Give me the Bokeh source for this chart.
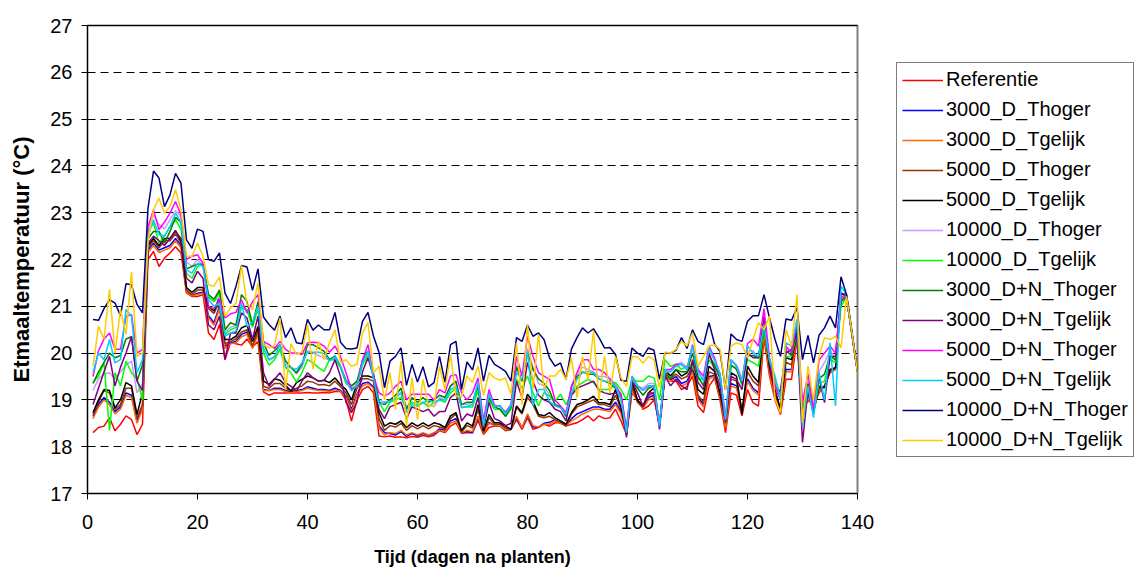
from bokeh.plotting import figure
from bokeh.models import Legend, LegendItem, LinearAxis, FixedTicker, Range1d
from bokeh.embed import file_html
from bokeh.resources import INLINE

FONT = "Liberation Sans"

days = list(range(1, 141))

series_names = ["Referentie", "3000_D_Thoger", "3000_D_Tgelijk", "5000_D_Thoger",
                "5000_D_Tgelijk", "10000_D_Thoger", "10000_D_Tgelijk", "3000_D+N_Thoger",
                "3000_D+N_Tgelijk", "5000_D+N_Thoger", "5000_D+N_Tgelijk",
                "10000_D+N_Thoger", "10000_D+N_Tgelijk"]

referentie = [
    18.30, 18.41, 18.44, 18.62, 18.34, 18.48, 18.66, 18.58, 18.26, 18.48,
    22.00, 22.17, 21.85, 22.03, 22.14, 22.27, 22.14, 21.28, 21.21, 21.21,
    21.25, 20.43, 20.29, 20.61, 19.86, 20.22, 20.20, 20.17, 20.30, 20.13,
    20.25, 19.17, 19.10, 19.15, 19.15, 19.15, 19.15, 19.15, 19.15, 19.16,
    19.15, 19.15, 19.16, 19.15, 19.18, 19.18, 19.00, 18.55, 19.00, 19.22,
    19.29, 19.15, 18.23, 18.21, 18.23, 18.20, 18.21, 18.19, 18.22, 18.20,
    18.24, 18.21, 18.24, 18.34, 18.30, 18.44, 18.51, 18.29, 18.30, 18.30,
    18.56, 18.26, 18.41, 18.44, 18.44, 18.34, 18.37, 18.58, 18.37, 18.62,
    18.37, 18.41, 18.48, 18.44, 18.51, 18.51, 18.44, 18.48, 18.51, 18.58,
    18.66, 18.55, 18.66, 18.60, 18.62, 18.80, 18.55, 18.26, 19.15, 19.00,
    18.80, 18.87, 19.00, 18.51, 19.51, 19.40, 19.40, 19.22, 19.29, 19.51,
    18.87, 18.73, 19.29, 19.47, 19.00, 18.30, 19.15, 19.10, 18.66, 19.22,
    18.94, 18.87, 20.33, 19.51, 19.00, 18.69, 19.44, 19.44, 20.29, 18.73,
    19.00, 18.87, 19.15, 19.29, 19.58, 19.65, 21.14, 21.21, 20.40, 19.60]

d3000_thoger = [
    18.65, 18.90, 19.05, 18.95, 18.75, 18.85, 19.15, 19.10, 18.55, 18.85,
    22.20, 22.35, 22.20, 22.25, 22.30, 22.45, 22.30, 21.32, 21.22, 21.28,
    21.30, 20.80, 20.65, 21.00, 20.15, 20.22, 20.25, 20.40, 20.45, 20.12,
    20.45, 19.22, 19.20, 19.25, 19.25, 19.20, 19.17, 19.20, 19.22, 19.28,
    19.25, 19.22, 19.22, 19.20, 19.25, 19.20, 19.08, 18.80, 19.12, 19.35,
    19.38, 19.28, 18.45, 18.30, 18.28, 18.25, 18.32, 18.22, 18.28, 18.23,
    18.28, 18.24, 18.28, 18.38, 18.35, 18.55, 18.60, 18.30, 18.33, 18.30,
    18.62, 18.30, 18.52, 18.45, 18.45, 18.36, 18.37, 18.62, 18.40, 18.68,
    18.42, 18.42, 18.50, 18.52, 18.58, 18.50, 18.45, 18.60, 18.70, 18.75,
    18.80, 18.85, 18.85, 18.80, 18.80, 18.95, 18.75, 18.30, 19.25, 18.98,
    18.85, 19.05, 19.10, 18.45, 19.55, 19.42, 19.50, 19.35, 19.40, 19.65,
    19.05, 18.90, 19.50, 19.52, 19.08, 18.45, 19.35, 19.30, 18.80, 19.45,
    19.25, 19.15, 20.50, 19.60, 19.10, 18.75, 19.65, 19.65, 20.38, 18.62,
    19.10, 18.80, 19.22, 19.30, 19.60, 19.66, 21.18, 21.20, 20.40, 19.60]

d3000_tgelijk = [
    18.60, 18.85, 19.00, 18.90, 18.70, 18.80, 19.10, 19.05, 18.50, 18.80,
    22.15, 22.30, 22.15, 22.20, 22.25, 22.40, 22.25, 21.30, 21.22, 21.25,
    21.28, 20.75, 20.60, 20.95, 20.10, 20.20, 20.22, 20.35, 20.40, 20.10,
    20.40, 19.20, 19.20, 19.22, 19.22, 19.18, 19.15, 19.18, 19.20, 19.25,
    19.22, 19.20, 19.20, 19.18, 19.22, 19.18, 19.05, 18.75, 19.10, 19.30,
    19.35, 19.25, 18.40, 18.25, 18.30, 18.28, 18.35, 18.25, 18.30, 18.25,
    18.30, 18.25, 18.30, 18.35, 18.32, 18.50, 18.55, 18.30, 18.35, 18.32,
    18.65, 18.28, 18.50, 18.45, 18.45, 18.36, 18.37, 18.65, 18.40, 18.70,
    18.45, 18.42, 18.48, 18.48, 18.55, 18.50, 18.45, 18.55, 18.62, 18.70,
    18.75, 18.80, 18.80, 18.78, 18.75, 18.90, 18.70, 18.28, 19.20, 18.95,
    18.82, 19.00, 19.05, 18.45, 19.55, 19.40, 19.45, 19.30, 19.35, 19.60,
    19.00, 18.85, 19.45, 19.50, 19.05, 18.40, 19.30, 19.25, 18.75, 19.40,
    19.20, 19.10, 20.45, 19.55, 19.05, 18.72, 19.60, 19.60, 20.35, 18.65,
    19.05, 18.80, 19.20, 19.30, 19.60, 19.66, 21.15, 21.20, 20.40, 19.60]

d5000_thoger = [
    18.70, 18.95, 19.20, 19.15, 18.80, 18.90, 19.25, 19.25, 18.62, 18.90,
    22.25, 22.40, 22.25, 22.40, 22.40, 22.55, 22.35, 21.35, 21.25, 21.35,
    21.35, 20.95, 20.85, 21.10, 20.20, 20.25, 20.30, 20.45, 20.50, 20.15,
    20.50, 19.29, 19.25, 19.35, 19.35, 19.25, 19.18, 19.25, 19.30, 19.40,
    19.38, 19.32, 19.33, 19.30, 19.40, 19.28, 19.15, 18.90, 19.25, 19.45,
    19.45, 19.40, 18.60, 18.35, 18.45, 18.42, 18.50, 18.35, 18.45, 18.38,
    18.45, 18.38, 18.45, 18.42, 18.38, 18.60, 18.70, 18.32, 18.45, 18.40,
    18.80, 18.30, 18.62, 18.48, 18.48, 18.40, 18.37, 18.85, 18.70, 19.05,
    18.90, 18.65, 18.62, 18.65, 18.58, 18.52, 18.45, 18.70, 18.85, 18.90,
    18.95, 19.00, 18.90, 18.90, 18.85, 19.10, 18.80, 18.28, 19.30, 18.95,
    18.85, 19.10, 19.15, 18.44, 19.60, 19.45, 19.55, 19.45, 19.50, 19.70,
    19.10, 18.95, 19.60, 19.55, 19.10, 18.50, 19.45, 19.40, 18.75, 19.60,
    19.40, 19.30, 20.60, 19.65, 19.15, 18.78, 19.80, 19.75, 20.40, 18.60,
    19.15, 18.75, 19.25, 19.28, 19.62, 19.67, 21.20, 21.20, 20.40, 19.60]

d5000_tgelijk = [
    18.73, 19.00, 19.22, 19.20, 18.83, 19.00, 19.37, 19.30, 18.69, 19.15,
    22.30, 22.45, 22.30, 22.45, 22.45, 22.62, 22.40, 21.40, 21.30, 21.40,
    21.40, 21.00, 20.90, 21.20, 20.29, 20.29, 20.36, 20.54, 20.59, 20.25,
    20.57, 19.40, 19.33, 19.45, 19.42, 19.31, 19.19, 19.37, 19.44, 19.51,
    19.47, 19.40, 19.42, 19.37, 19.47, 19.33, 19.22, 19.00, 19.35, 19.51,
    19.51, 19.47, 18.73, 18.44, 18.51, 18.48, 18.55, 18.41, 18.51, 18.44,
    18.51, 18.44, 18.51, 18.48, 18.41, 18.66, 18.73, 18.34, 18.51, 18.44,
    18.90, 18.34, 18.69, 18.51, 18.51, 18.44, 18.37, 18.87, 18.73, 19.12,
    18.97, 18.69, 18.66, 18.73, 18.62, 18.55, 18.48, 18.73, 18.90, 18.94,
    19.00, 19.08, 18.94, 18.94, 18.90, 19.22, 18.83, 18.30, 19.40, 19.00,
    18.87, 19.15, 19.26, 18.44, 19.65, 19.51, 19.65, 19.51, 19.58, 19.79,
    19.22, 19.12, 19.72, 19.61, 19.15, 18.58, 19.58, 19.51, 18.69, 19.72,
    19.51, 19.37, 20.72, 19.72, 19.22, 18.80, 19.90, 19.86, 20.43, 18.58,
    19.22, 18.73, 19.29, 19.26, 19.65, 19.69, 21.28, 21.20, 20.40, 19.60]

d10000_thoger = [
    19.20, 19.45, 19.55, 19.58, 19.45, 19.60, 19.75, 19.83, 19.15, 19.35,
    22.60, 22.95, 22.75, 22.65, 22.85, 23.05, 22.90, 21.95, 21.85, 22.00,
    21.85, 21.20, 21.10, 21.20, 20.45, 20.55, 20.60, 21.00, 20.90, 20.60,
    21.05, 20.10, 19.85, 19.90, 20.10, 19.75, 19.70, 19.55, 19.70, 20.05,
    20.00, 19.95, 19.90, 19.85, 19.95, 19.70, 19.45, 19.30, 19.35, 19.80,
    20.00, 19.50, 19.00, 18.95, 19.00, 19.10, 19.15, 18.85, 18.95, 18.90,
    18.95, 18.90, 18.85, 19.05, 19.00, 19.30, 19.35, 18.90, 18.90, 18.95,
    19.35, 18.50, 19.15, 18.90, 18.85, 18.75, 18.90, 19.75, 19.40, 20.10,
    19.70, 19.35, 19.30, 19.10, 18.90, 18.85, 18.65, 19.25, 19.55, 19.70,
    19.65, 19.60, 19.50, 19.50, 19.45, 19.35, 19.10, 18.40, 19.45, 19.30,
    19.25, 19.35, 19.35, 18.50, 19.60, 19.60, 19.75, 19.80, 19.70, 20.10,
    19.60, 19.45, 20.05, 19.85, 19.55, 18.65, 19.85, 19.75, 19.45, 20.05,
    20.05, 19.90, 20.65, 19.85, 19.35, 19.00, 20.10, 20.00, 20.60, 18.80,
    19.40, 18.75, 19.60, 19.80, 20.05, 19.90, 21.20, 21.22, 20.42, 19.60]

d10000_tgelijk = [
    19.37, 19.51, 19.79, 18.35, 19.58, 19.30, 19.83, 19.58, 19.44, 19.00,
    22.60, 22.78, 22.35, 22.50, 22.70, 22.85, 22.64, 21.70, 21.60, 21.85,
    21.90, 21.20, 21.10, 21.30, 20.40, 20.50, 20.55, 20.97, 20.93, 20.55,
    20.95, 20.00, 19.74, 19.86, 20.08, 19.69, 19.58, 19.38, 19.58, 19.86,
    19.79, 19.69, 19.61, 19.86, 19.86, 19.69, 19.35, 19.25, 19.30, 19.75,
    19.95, 19.55, 18.95, 18.75, 18.95, 19.00, 19.05, 18.80, 18.95, 18.90,
    18.95, 18.85, 18.95, 19.00, 18.95, 19.15, 19.25, 18.85, 18.85, 18.85,
    19.20, 18.40, 19.00, 18.80, 18.80, 18.65, 18.80, 19.45, 19.25, 19.51,
    19.15, 18.87, 19.15, 19.08, 18.97, 19.12, 18.90, 19.15, 19.29, 19.37,
    19.44, 19.37, 19.22, 19.22, 19.22, 19.37, 19.22, 19.00, 19.44, 19.40,
    19.40, 19.51, 19.47, 19.00, 19.86, 19.72, 19.76, 19.65, 19.72, 19.72,
    19.44, 19.44, 19.86, 19.69, 19.58, 18.52, 19.72, 19.69, 19.30, 19.86,
    19.80, 19.72, 20.50, 19.86, 19.44, 19.10, 19.93, 19.93, 20.45, 18.80,
    19.30, 18.70, 19.35, 19.40, 19.86, 19.80, 21.00, 21.20, 20.40, 19.60]

dn3000_thoger = [
    19.35, 19.60, 19.80, 20.00, 19.90, 19.95, 20.30, 20.35, 19.40, 19.75,
    22.45, 22.60, 22.60, 22.35, 22.60, 22.90, 22.80, 21.80, 21.85, 21.90,
    21.90, 21.25, 21.15, 21.35, 20.50, 20.65, 20.60, 21.25, 21.10, 20.60,
    21.10, 20.22, 19.95, 20.05, 20.18, 19.83, 19.69, 19.58, 19.76, 20.18,
    20.18, 20.11, 20.04, 19.86, 19.93, 19.72, 19.40, 19.30, 19.40, 19.85,
    20.05, 19.55, 18.95, 18.90, 19.00, 19.10, 19.25, 18.80, 19.05, 18.95,
    19.05, 18.95, 19.00, 19.10, 19.05, 19.30, 19.40, 18.90, 18.95, 18.95,
    19.30, 18.45, 19.05, 18.85, 18.80, 18.65, 18.85, 19.70, 19.40, 20.00,
    19.65, 19.45, 19.35, 19.20, 18.90, 18.85, 18.65, 19.30, 19.50, 19.60,
    19.55, 19.55, 19.45, 19.40, 19.35, 19.25, 19.10, 18.25, 19.40, 19.25,
    19.10, 19.25, 19.30, 18.45, 19.55, 19.45, 19.65, 19.60, 19.60, 20.00,
    19.50, 19.30, 19.95, 19.75, 19.45, 18.55, 19.75, 19.65, 19.35, 19.95,
    19.95, 19.90, 20.55, 19.80, 19.30, 19.05, 20.05, 19.95, 20.55, 18.75,
    19.35, 18.75, 19.45, 19.55, 19.95, 19.85, 21.10, 21.20, 20.40, 19.60]

dn3000_tgelijk = [
    18.90, 19.25, 19.60, 19.93, 19.30, 19.70, 20.00, 20.36, 19.40, 19.20,
    22.35, 22.50, 22.40, 22.30, 22.45, 22.60, 22.45, 21.60, 21.50, 21.75,
    21.60, 20.60, 20.50, 20.79, 19.86, 20.43, 20.43, 20.86, 20.75, 20.29,
    20.79, 19.58, 19.29, 19.44, 19.58, 19.37, 19.29, 19.19, 19.40, 19.58,
    19.47, 19.40, 19.42, 19.58, 19.86, 19.50, 18.95, 18.73, 18.95, 19.60,
    19.90, 19.50, 18.80, 18.60, 18.85, 18.90, 18.95, 18.60, 18.85, 18.80,
    18.75, 18.80, 18.65, 18.75, 18.75, 19.05, 19.15, 18.55, 18.70, 18.65,
    19.05, 18.40, 18.95, 18.60, 18.55, 18.45, 18.50, 19.40, 19.05, 19.80,
    19.40, 19.10, 19.00, 18.95, 18.80, 18.75, 18.55, 19.10, 19.25, 19.30,
    19.35, 19.40, 19.20, 19.15, 19.12, 19.15, 19.05, 18.20, 19.40, 19.15,
    18.87, 19.15, 19.15, 18.37, 19.51, 19.30, 19.44, 19.30, 19.22, 19.86,
    19.37, 19.22, 20.00, 19.65, 19.30, 18.52, 19.51, 19.44, 19.22, 20.00,
    19.90, 19.90, 20.79, 19.86, 19.08, 19.22, 20.00, 20.08, 20.43, 18.09,
    19.22, 19.00, 19.51, 18.94, 19.93, 19.93, 21.28, 21.25, 20.42, 19.60]

dn5000_thoger = [
    19.50, 20.05, 20.30, 20.43, 20.08, 20.08, 20.79, 20.82, 20.00, 20.08,
    22.70, 23.06, 22.64, 22.80, 22.99, 23.24, 22.95, 22.00, 22.07, 22.10,
    21.92, 21.00, 20.95, 21.15, 20.75, 20.84, 20.87, 21.14, 20.86, 21.10,
    21.25, 20.25, 20.18, 20.10, 20.25, 20.08, 20.00, 20.00, 19.97, 20.22,
    20.23, 20.22, 20.15, 20.02, 20.15, 19.93, 19.58, 19.22, 19.30, 19.86,
    20.18, 19.51, 19.15, 19.08, 19.15, 19.29, 19.40, 19.00, 19.12, 19.12,
    19.12, 19.12, 19.00, 19.22, 19.15, 19.51, 19.54, 19.15, 19.00, 19.15,
    19.47, 18.55, 19.22, 18.87, 18.87, 18.73, 18.90, 19.93, 19.51, 20.36,
    19.93, 19.58, 19.51, 19.44, 19.00, 18.87, 18.73, 19.29, 19.58, 19.86,
    19.86, 19.65, 19.65, 19.58, 19.44, 19.29, 19.12, 18.37, 19.51, 19.30,
    19.20, 19.30, 19.30, 18.44, 19.65, 19.65, 19.76, 19.76, 19.65, 20.18,
    19.65, 19.51, 20.15, 19.90, 19.55, 18.58, 19.86, 19.72, 19.40, 20.20,
    20.30, 20.15, 20.95, 19.90, 19.30, 19.00, 20.15, 20.00, 20.70, 18.95,
    19.55, 18.80, 19.85, 20.00, 20.15, 20.00, 21.20, 21.20, 20.40, 19.60]

dn5000_tgelijk = [
    19.58, 20.00, 19.86, 20.29, 19.79, 19.86, 20.93, 20.79, 19.58, 19.86,
    22.50, 22.85, 22.53, 22.50, 22.70, 22.99, 22.80, 21.78, 21.71, 21.92,
    21.85, 21.14, 21.00, 21.07, 20.36, 20.43, 20.47, 21.07, 20.57, 20.65,
    21.00, 20.11, 19.86, 19.93, 20.18, 19.70, 19.69, 19.65, 19.79, 20.02,
    20.02, 20.02, 19.99, 19.83, 19.92, 19.72, 19.40, 19.19, 19.30, 19.79,
    20.04, 19.45, 18.90, 18.94, 18.97, 19.04, 19.15, 18.73, 18.90, 18.86,
    18.94, 19.00, 18.94, 19.00, 19.00, 19.22, 19.29, 18.83, 18.86, 18.90,
    19.38, 18.45, 19.12, 18.85, 18.88, 18.70, 18.88, 19.58, 19.44, 20.04,
    18.87, 19.22, 19.22, 18.97, 18.87, 18.83, 18.69, 19.15, 19.44, 19.58,
    19.61, 19.58, 19.44, 19.40, 19.40, 19.29, 19.00, 18.30, 19.51, 19.30,
    19.20, 19.30, 19.30, 18.44, 19.65, 19.60, 19.72, 19.76, 19.65, 20.15,
    19.60, 19.40, 20.10, 19.85, 19.55, 18.58, 19.86, 19.72, 19.40, 20.15,
    20.00, 19.93, 20.60, 19.86, 19.51, 19.00, 20.22, 20.15, 20.72, 18.44,
    19.29, 18.62, 19.58, 19.00, 20.22, 18.87, 21.43, 21.25, 20.42, 19.60]

dn10000_thoger = [
    20.72, 20.70, 20.95, 21.14, 21.07, 20.80, 21.48, 21.46, 21.04, 20.86,
    23.10, 23.89, 23.74, 23.13, 23.38, 23.84, 23.63, 22.42, 22.24, 22.65,
    22.60, 22.00, 21.96, 22.14, 21.28, 21.06, 21.43, 21.87, 21.84, 21.34,
    21.80, 20.77, 20.61, 20.49, 20.79, 20.33, 20.54, 20.22, 20.20, 20.72,
    20.49, 20.60, 20.50, 20.50, 20.87, 20.23, 20.10, 20.09, 20.11, 20.68,
    20.87, 20.36, 20.02, 19.26, 19.83, 19.93, 20.11, 19.31, 19.76, 19.38,
    19.71, 19.28, 19.37, 19.93, 19.38, 20.18, 20.25, 19.22, 19.81, 19.64,
    20.11, 19.40, 19.95, 19.76, 19.69, 19.61, 19.40, 20.33, 20.25, 20.60,
    20.36, 20.43, 20.29, 19.90, 19.72, 19.79, 19.44, 20.09, 20.33, 20.54,
    20.43, 20.52, 20.33, 20.11, 20.12, 19.97, 19.42, 19.40, 20.11, 20.00,
    19.93, 20.11, 20.06, 19.44, 20.00, 20.00, 20.06, 20.33, 20.10, 20.50,
    20.25, 20.18, 20.65, 20.20, 20.03, 19.22, 20.41, 20.29, 20.25, 20.68,
    20.80, 20.80, 21.25, 20.75, 20.29, 19.93, 20.73, 20.70, 20.97, 19.86,
    20.38, 19.79, 20.38, 20.54, 20.79, 20.54, 21.63, 21.25, 20.45, 19.60]

dn10000_tgelijk = [
    19.72, 20.57, 20.30, 21.36, 20.00, 20.93, 20.40, 21.73, 19.93, 20.00,
    22.40, 23.06, 23.31, 22.99, 23.13, 23.49, 23.06, 22.07, 22.07, 22.35,
    22.07, 21.46, 21.43, 21.63, 20.79, 20.97, 21.06, 21.87, 21.04, 20.93,
    21.50, 20.18, 20.11, 20.15, 20.75, 19.22, 20.20, 19.97, 20.02, 20.61,
    19.65, 20.25, 19.86, 20.22, 20.50, 19.79, 19.86, 19.72, 19.76, 20.43,
    20.65, 19.58, 19.72, 19.00, 19.58, 18.80, 19.83, 18.44, 19.47, 18.58,
    19.44, 18.87, 18.87, 19.72, 19.22, 19.97, 19.07, 19.07, 19.51, 19.37,
    19.72, 19.10, 19.58, 19.47, 19.42, 19.47, 19.12, 20.22, 18.90, 20.61,
    19.22, 20.40, 19.24, 19.51, 19.51, 19.65, 19.44, 19.90, 19.05, 19.93,
    19.44, 20.47, 19.00, 19.93, 19.15, 19.93, 19.47, 19.29, 19.92, 19.92,
    19.79, 19.93, 19.86, 19.26, 20.02, 20.00, 20.08, 20.25, 20.15, 20.43,
    19.72, 19.93, 20.15, 20.18, 20.08, 19.22, 20.15, 20.22, 20.18, 19.90,
    20.29, 20.65, 20.50, 20.79, 19.02, 18.73, 20.50, 20.15, 21.25, 18.51,
    19.72, 19.00, 19.93, 20.33, 20.29, 20.36, 20.11, 21.21, 20.43, 19.58]

series_values = [referentie, d3000_thoger, d3000_tgelijk, d5000_thoger, d5000_tgelijk,
                 d10000_thoger, d10000_tgelijk, dn3000_thoger, dn3000_tgelijk,
                 dn5000_thoger, dn5000_tgelijk, dn10000_thoger, dn10000_tgelijk]

colors = ["#FF0000", "#0000FF", "#FF6600", "#993300", "#000000", "#CC99FF", "#00FF00",
          "#008000", "#800080", "#FF00FF", "#00CCFF", "#000080", "#FFCC00"]

x_ticks = [0, 20, 40, 60, 80, 100, 120, 140]
y_ticks = [17, 18, 19, 20, 21, 22, 23, 24, 25, 26, 27]

p = figure(frame_width=770, frame_height=468,
           x_range=Range1d(0, 140), y_range=Range1d(17, 27),
           output_backend="svg", toolbar_location=None,
           min_border_left=87, min_border_top=25, min_border_right=279,
           min_border_bottom=70)
p.background_fill_color = "white"
p.border_fill_color = "white"
p.outline_line_color = "#808080"
p.outline_line_width = 2

items = []
for name, vals, col in zip(series_names, series_values, colors):
    r = p.line(days, vals, line_color=col, line_width=1.5)
    items.append(LegendItem(label=name, renderers=[r]))

for ax in (p.xaxis[0], p.yaxis[0]):
    ax.axis_line_color = "black"
    ax.axis_line_width = 1
    ax.major_tick_out = 6
    ax.major_tick_in = 0
    ax.major_tick_line_color = "black"
    ax.minor_tick_line_color = None
    ax.major_label_text_font = FONT
    ax.major_label_text_font_size = "20px"
    ax.major_label_text_color = "black"
    ax.axis_label_text_font = FONT
    ax.axis_label_text_font_style = "bold"
    ax.axis_label_text_color = "black"

p.xaxis.axis_label_text_font_size = "18px"
p.yaxis.axis_label_text_font_size = "22px"
p.xaxis.ticker = FixedTicker(ticks=x_ticks)
p.yaxis.ticker = FixedTicker(ticks=y_ticks)
p.xaxis.axis_label = "Tijd (dagen na planten)"
p.yaxis.axis_label = "Etmaaltemperatuur (°C)"
p.xaxis.major_label_standoff = 15
p.yaxis.major_label_standoff = 9
p.xaxis.axis_label_standoff = 15
p.yaxis.axis_label_standoff = 13

p.xgrid.visible = False
p.ygrid.ticker = FixedTicker(ticks=y_ticks)
p.ygrid.grid_line_color = "black"
p.ygrid.grid_line_dash = "8 5"
p.ygrid.grid_line_width = 1

top_axis = LinearAxis(ticker=FixedTicker(ticks=[]), axis_line_color="black",
                      major_tick_line_color=None, minor_tick_line_color=None,
                      major_label_text_font_size="0px")
p.add_layout(top_axis, "above")

legend = Legend(items=items, location=(39, 36))
legend.label_text_font = FONT
legend.label_text_font_size = "20px"
legend.label_text_color = "black"
legend.glyph_width = 41
legend.glyph_height = 20
legend.label_height = 20
legend.label_standoff = 3
legend.spacing = 7
legend.padding = 5
legend.margin = 0
legend.border_line_color = "black"
legend.border_line_width = 1
legend.background_fill_color = "white"
legend.background_fill_alpha = 1
p.add_layout(legend, "right")

open("out.html", "w").write(file_html(p, INLINE))
